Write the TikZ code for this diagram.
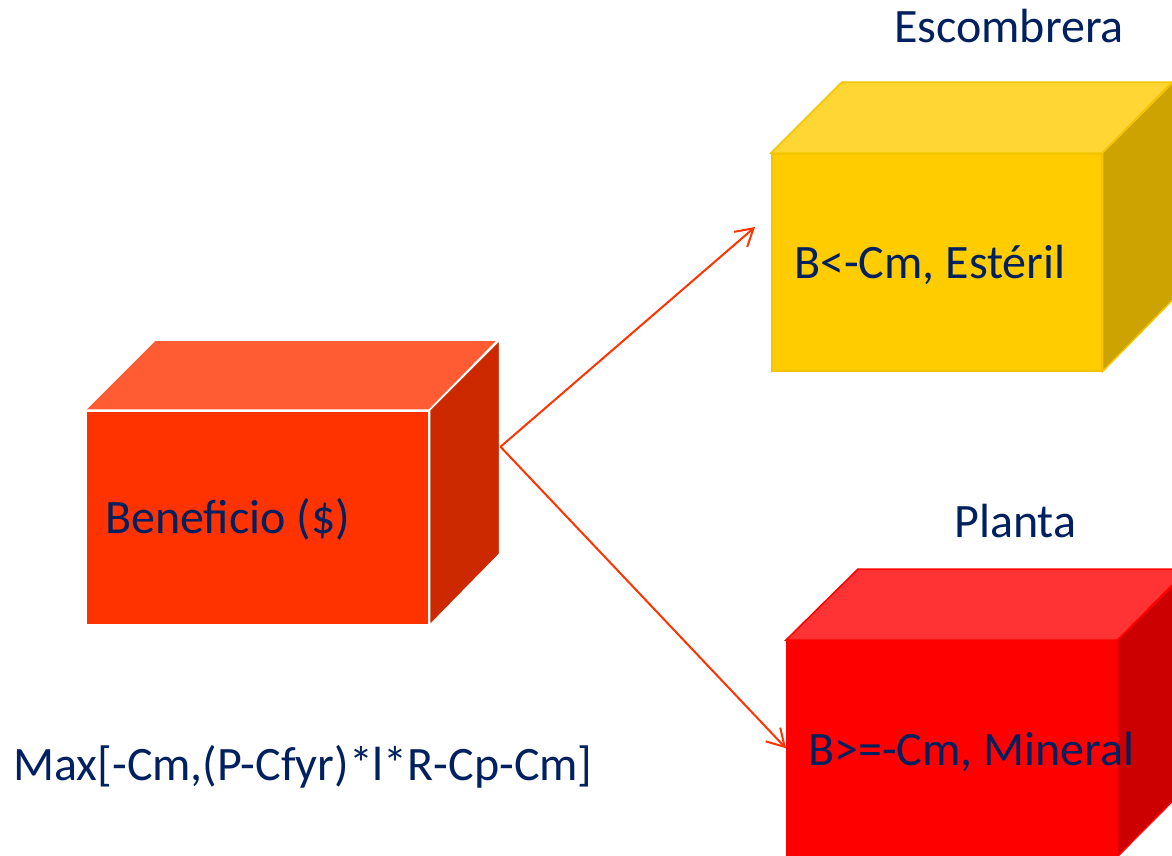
\documentclass[tikz,border=0pt]{standalone}
\usepackage{fontspec}
\setmainfont{Carlito}
\usetikzlibrary{arrows.meta}

\definecolor{texto}{HTML}{002060}
\definecolor{flecha}{HTML}{FF3300}
\definecolor{benfrente}{HTML}{FF3300}
\definecolor{bentapa}{HTML}{FF5C33}
\definecolor{benlado}{HTML}{CC2900}
\definecolor{escfrente}{HTML}{FFCC00}
\definecolor{esctapa}{HTML}{FFD633}
\definecolor{esclado}{HTML}{CCA300}
\definecolor{escborde}{HTML}{F5C400}
\definecolor{plafrente}{HTML}{FF0000}
\definecolor{platapa}{HTML}{FF3333}
\definecolor{plalado}{HTML}{CC0000}

\begin{document}
\begin{tikzpicture}[x=1pt,y=-1pt]
\tikzstyle{lien}=[-{Straight Barb[length=17pt,width=20pt]},line width=2pt,color=flecha]
\tikzset{cara/.style={fill=#1,inner sep=0pt,anchor=north west},
etiqueta/.style={text=texto,anchor=base west,inner sep=0pt,font=\fontsize{48}{58}\selectfont}}
\clip (0,0) rectangle (1172,855);

% cajas
\node[cara=benfrente,draw=white,line width=1.5pt,minimum width=343pt,minimum height=214pt] (ben) at (85,410) {};
\filldraw[fill=bentapa,draw=white,line width=1.5pt] (ben.north west) -- ++(70,-70) -- ++(343,0) -- (ben.north east) -- cycle;
\filldraw[fill=benlado,draw=white,line width=1.5pt] (ben.north east) -- ++(70,-70) -- ++(0,214) -- (ben.south east) -- cycle;

\node[cara=escfrente,draw=escborde,line width=1.5pt,minimum width=330pt,minimum height=217pt] (esc) at (771,153) {};
\filldraw[fill=esctapa,draw=escborde,line width=1.5pt] (esc.north west) -- ++(71,-71) -- ++(330,0) -- (esc.north east) -- cycle;
\filldraw[fill=esclado,draw=escborde,line width=1.5pt] (esc.north east) -- ++(71,-71) -- ++(0,217) -- (esc.south east) -- cycle;

\node[cara=plafrente,draw=plafrente,line width=1.5pt,minimum width=330pt,minimum height=215pt] (pla) at (786,640) {};
\filldraw[fill=platapa,draw=plafrente,line width=1.5pt] (pla.north west) -- ++(72,-71) -- ++(330,0) -- (pla.north east) -- cycle;
\filldraw[fill=plalado,draw=plafrente,line width=1.5pt] (pla.north east) -- ++(72,-71) -- ++(0,215) -- (pla.south east) -- cycle;

% textos
\node[etiqueta] (tben) at (105,533) {Beneficio (\$)};
\node[etiqueta] (tesc) at (794,278) {B<-Cm, Estéril};
\node[etiqueta] (tpla) at (808,765) {B>=-Cm, Mineral};
\node[etiqueta] (nesc) at (894,42) {Escombrera};
\node[etiqueta] (npla) at (954,537) {Planta};
\node[etiqueta] (formula) at (13,780) {Max[-Cm,(P-Cfyr)*l*R-Cp-Cm]};

% flechas
\coordinate (sortie) at ([xshift=71pt,yshift=71pt]ben.east);
\draw[lien] (sortie) -- ([xshift=-16pt,yshift=-74pt]esc.north west);
\draw[lien] (sortie) -- (pla.west);

\end{tikzpicture}
\end{document}
